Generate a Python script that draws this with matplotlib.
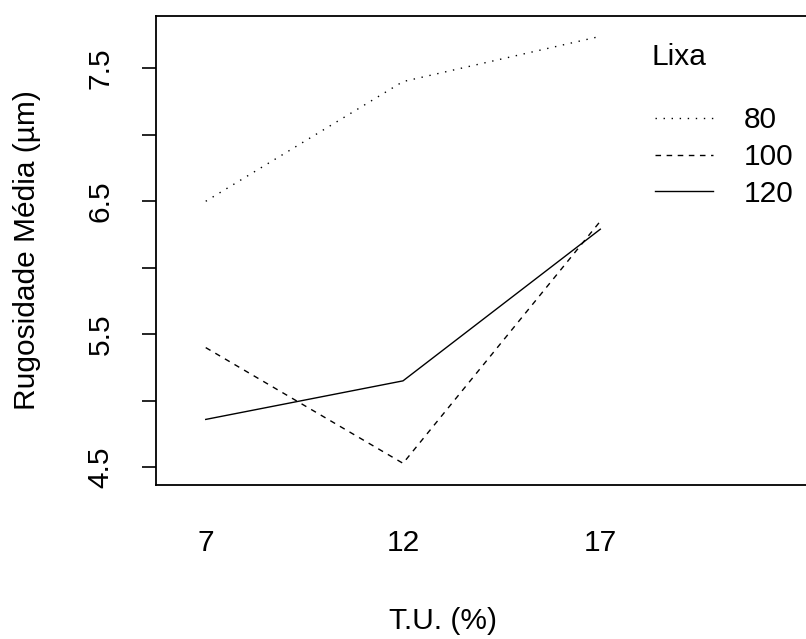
import matplotlib
matplotlib.use("Agg")
import matplotlib.pyplot as plt
from matplotlib.transforms import blended_transform_factory

plt.rcParams['font.family'] = ['Liberation Sans', 'DejaVu Sans']

# T.U. (%) levels and mean roughness per sandpaper grit (Lixa)
tu_levels = ['7', '12', '17']
lixa = ['80', '100', '120']
r80 = [6.50, 7.40, 7.74]
r100 = [5.40, 4.53, 6.35]
r120 = [4.86, 5.15, 6.29]
styles = [(0, (1, 4.8)), (0, (4, 4)), '-']

FS = 21.5
fig = plt.figure(figsize=(8.06, 6.39), dpi=100)
W, H = 806, 639
# right edge of the box is cropped off in the reference
ax = fig.add_axes([156 / W, 1 - 485 / H, (812 - 156) / W, (485 - 16) / H])

x = [1, 2, 3]
lines = []
for ys, ls, lab in zip([r80, r100, r120], styles, lixa):
    l, = ax.plot(x, ys, color='black', linestyle=ls, linewidth=1.0, label=lab)
    lines.append(l)

ax.set_xlim(0.748, 4.073)
ax.set_ylim(4.367, 7.893)

yt = [4.5, 5.0, 5.5, 6.0, 6.5, 7.0, 7.5]
ax.set_yticks(yt)
ax.set_yticklabels(['4.5', '', '5.5', '', '6.5', '', '7.5'], rotation=90, va='center')
ax.tick_params(axis='y', length=10, width=1.2, labelsize=FS, pad=20)
ax.set_xticks([])
for s in ax.spines.values():
    s.set_linewidth(1.3)

# x labels sit well below the box, no tick marks
tr = blended_transform_factory(ax.transData, fig.transFigure)
for xi, lab in zip(x, tu_levels):
    ax.text(xi, 1 - 543 / H, lab, transform=tr, ha='center', va='center', fontsize=FS)

fig.text(443 / W, 1 - 621 / H, 'T.U. (%)', ha='center', va='center', fontsize=FS)
fig.text(27 / W, 1 - 250 / H, 'Rugosidade Média (µm)', ha='center', va='center', rotation=90, fontsize=FS)

fig.text(652 / W, 1 - 57 / H, 'Lixa', ha='left', va='center', fontsize=FS)
ax.legend(handles=lines, loc='upper left', bbox_to_anchor=(655 / W, 1 - 106 / H),
          bbox_transform=fig.transFigure, frameon=False, fontsize=FS,
          handlelength=1.94, handletextpad=1.04, labelspacing=0.3, borderpad=0, borderaxespad=0)

fig.savefig('out.png', dpi=100)
